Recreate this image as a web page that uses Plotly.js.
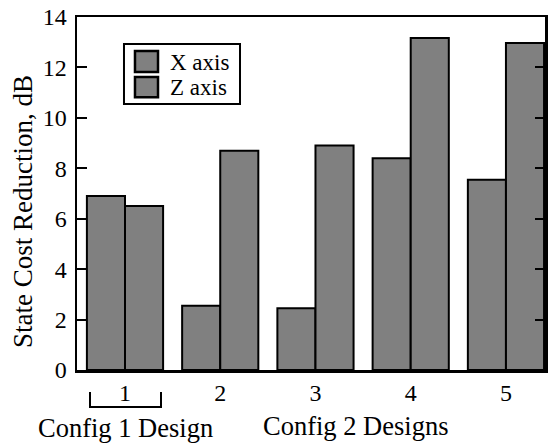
<!DOCTYPE html>
<html>
<head>
<meta charset="utf-8">
<script src="https://cdn.plot.ly/plotly-3.0.1.min.js"></script>
<style>html,body{margin:0;padding:0;background:#fff;}#chart{width:553px;height:443px;}</style>
</head>
<body>
<div id="chart"></div>
<script>
const categories = [1, 2, 3, 4, 5];
const xVals = [6.9, 2.55, 2.45, 8.4, 7.55];
const zVals = [6.5, 8.7, 8.9, 13.17, 12.97];
const seriesNames = ["X axis", "Z axis"];
const yTicks = [0, 2, 4, 6, 8, 10, 12, 14];
const yTitle = "State Cost Reduction, dB";
const groupLabels = ["Config 1 Design", "Config 2 Designs"];

const fam = "Liberation Serif, Times New Roman, serif";
const f = (s) => ({family: fam, size: s, color: "#000"});
const barStyle = {color: "#808080", line: {color: "#000", width: 2}};

const traces = [
  {type: "bar", name: seriesNames[0], x: categories, y: xVals, marker: barStyle},
  {type: "bar", name: seriesNames[1], x: categories, y: zVals, marker: barStyle}
];

// custom legend (swatches + labels) in paper coordinates
const legendRows = [
  {y0: 0.844, y1: 0.904, ty: 0.871},
  {y0: 0.773, y1: 0.830, ty: 0.800}
];
const shapes = [
  {type: "rect", xref: "paper", yref: "paper", x0: 0.1004, x1: 0.3483, y0: 0.7535, y1: 0.9235,
   line: {color: "#000", width: 2}, fillcolor: "#fff", layer: "above"},
  {type: "path", xref: "x", yref: "paper",
   path: "M 0.6325,-0.062 L 0.6325,-0.105 L 1.378,-0.105 L 1.378,-0.062",
   line: {color: "#000", width: 2}}
];
const annotations = [];
seriesNames.forEach((name, i) => {
  shapes.push({type: "rect", xref: "paper", yref: "paper", x0: 0.1239, x1: 0.1731,
    y0: legendRows[i].y0, y1: legendRows[i].y1, line: {color: "#000", width: 2.5},
    fillcolor: barStyle.color, layer: "above"});
  annotations.push({text: name, xref: "paper", yref: "paper", x: 0.194, y: legendRows[i].ty,
    xanchor: "left", yanchor: "middle", showarrow: false, font: f(23)});
});
annotations.push(
  {text: yTitle, xref: "paper", yref: "paper", x: -0.1154, y: 0.4504, textangle: -90,
   xanchor: "center", yanchor: "middle", showarrow: false, font: f(27)},
  {text: groupLabels[0], xref: "x", yref: "paper", x: 1.0, y: -0.1643, showarrow: false,
   xanchor: "center", yanchor: "middle", font: f(26.5)},
  {text: groupLabels[1], xref: "x", yref: "paper", x: 3.425, y: -0.1586, showarrow: false,
   xanchor: "center", yanchor: "middle", font: f(26.5)}
);

const layout = {
  width: 553, height: 443,
  margin: {l: 77, r: 8, t: 17, b: 73},
  paper_bgcolor: "#fff", plot_bgcolor: "#fff",
  font: f(24),
  barmode: "group", bargap: 0.2, bargroupgap: 0,
  showlegend: false,
  xaxis: {range: [0.496, 5.41], tickvals: categories, ticktext: categories.map(String),
    showline: true, linecolor: "#000", linewidth: 2.5, mirror: true,
    ticks: "", showgrid: false, zeroline: false, fixedrange: true, tickfont: f(24)},
  yaxis: {range: [0, 14], tickvals: yTicks, showline: true, linecolor: "#000", linewidth: 2.5,
    mirror: "ticks", ticks: "inside", ticklen: 10, tickwidth: 2, tickcolor: "#000",
    showgrid: false, zeroline: false, fixedrange: true, tickfont: f(24), ticklabelstandoff: 3},
  shapes: shapes,
  annotations: annotations
};

Plotly.newPlot("chart", traces, layout, {displayModeBar: false, staticPlot: true});
</script>
</body>
</html>
